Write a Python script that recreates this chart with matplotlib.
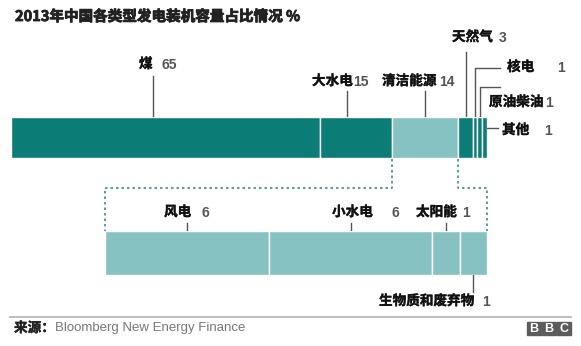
import matplotlib
matplotlib.use("Agg")
import matplotlib.pyplot as plt
import matplotlib.patheffects as pe
from matplotlib.patches import Rectangle

# 装机容量占比 (%)
main_names = ["煤", "大水电", "清洁能源", "天然气", "核电", "原油柴油", "其他"]
main_vals = [65, 15, 14, 3, 1, 1, 1]
main_colors = ["#0b7d76", "#0b7d76", "#86c2c1", "#0b7d76", "#0b7d76", "#0b7d76", "#0b7d76"]

clean_names = ["风电", "小水电", "太阳能", "生物质和废弃物"]
clean_vals = [6, 6, 1, 1]
clean_color = "#86c2c1"

TITLE = "2013年中国各类型发电装机容量占比情况 %"
SOURCE = "Bloomberg New Energy Finance"

CJK = ["Noto Sans CJK SC", "DejaVu Sans"]
NUM = ["Liberation Sans", "DejaVu Sans"]
W, H = 581, 346

fig = plt.figure(figsize=(W / 100, H / 100), dpi=100)
ov = fig.add_axes([0, 0, 1, 1])
ov.set_xlim(0, W); ov.set_ylim(H, 0); ov.axis("off")


def bar_axes(x0, x1, ytop, ybot, total):
    ax = fig.add_axes([x0 / W, 1 - ybot / H, (x1 - x0) / W, (ybot - ytop) / H])
    ax.set_xlim(0, total); ax.set_ylim(0, 1); ax.axis("off")
    return ax


def px(ax, v):
    return ax.transData.transform((v, 0))[0]


def stacked(ax, vals, colors):
    left = 0
    lefts = []
    for v, c in zip(vals, colors):
        ax.barh(0.5, v, left=left, height=1, color=c, edgecolor="white", linewidth=1.0)
        lefts.append(left)
        left += v
    return lefts


ax_top = bar_axes(11, 487, 117, 158, sum(main_vals))
ax_bot = bar_axes(105, 487, 231, 275, sum(clean_vals))
top_lefts = stacked(ax_top, main_vals, main_colors)
bot_lefts = stacked(ax_bot, clean_vals, [clean_color] * len(clean_vals))
fig.canvas.draw()

top_mid = [px(ax_top, l + v / 2) for l, v in zip(top_lefts, main_vals)]
bot_mid = [px(ax_bot, l + v / 2) for l, v in zip(bot_lefts, clean_vals)]
top_mid[0] = px(ax_top, main_vals[0] * 0.46)
top_mid[1] = px(ax_top, top_lefts[1] + main_vals[1] * 0.37)

lc = "#555555"
lw = 1.0
thick = [pe.withStroke(linewidth=0.25, foreground="#111111")]


def label(x, y, name, val, xv, fs=9.8):
    ov.text(x, y, name, fontsize=fs, fontweight="heavy", family=CJK, color="#111111",
            ha="left", va="center", path_effects=thick)
    ov.text(xv, y + 1, str(val), fontsize=10, fontweight="bold", family=NUM, color="#555555",
            ha="left", va="center")


# top bar leaders
ov.plot([top_mid[0]] * 2, [76, 117], color=lc, lw=lw)
label(139, 64, main_names[0], main_vals[0], 162)
ov.plot([top_mid[1]] * 2, [91, 117], color=lc, lw=lw)
label(312, 81, main_names[1], main_vals[1], 353)
ov.plot([top_mid[2]] * 2, [91, 117], color=lc, lw=lw)
label(382, 81, main_names[2], main_vals[2], 439)
ov.plot([top_mid[3]] * 2, [52, 117], color=lc, lw=lw)
label(452, 37, main_names[3], main_vals[3], 499)
ov.plot([top_mid[4], top_mid[4], 500], [117, 68, 68], color=lc, lw=lw)
label(507, 67, main_names[4], main_vals[4], 557)
ov.plot([top_mid[5], top_mid[5], 500], [117, 87, 87], color=lc, lw=lw)
label(489, 102, main_names[5], main_vals[5], 545)
ov.plot([px(ax_top, sum(main_vals)), 498], [128, 128], color=lc, lw=lw)
label(502, 130, main_names[6], main_vals[6], 544)

# bottom bar leaders
for i, (tx, nx) in enumerate([(164, 202), (332, 391), (416, 462)]):
    ov.plot([bot_mid[i]] * 2, [223, 231], color=lc, lw=lw)
    label(tx, 212, clean_names[i], clean_vals[i], nx)
ov.plot([bot_mid[3]] * 2, [275, 292], color=lc, lw=lw)
label(379, 301, clean_names[3], clean_vals[3], 482)

# dotted breakout from the clean-energy segment
c0 = px(ax_top, top_lefts[2])
c1 = px(ax_top, top_lefts[2] + main_vals[2])
b0 = px(ax_bot, 0)
b1 = px(ax_bot, sum(clean_vals))
dot = dict(color="#3a8f8a", lw=1.2, ls=(0, (1.5, 1.8)))
ov.plot([c0, c0, b0, b0], [159, 188, 188, 231], **dot)
ov.plot([c1, c1, b1, b1], [159, 188, 188, 231], **dot)

# title
ov.text(15, 16, TITLE, fontsize=10.5, fontweight="heavy", family=CJK, color="#222222",
        ha="left", va="center", path_effects=[pe.withStroke(linewidth=0.6, foreground="#222222")])

# footer
ov.plot([10, 571], [317, 317], color="#b0b0b0", lw=1.2)
ov.text(14, 328, "来源：", fontsize=9.8, fontweight="heavy", family=CJK, color="#222222",
        ha="left", va="center", path_effects=thick)
ov.text(55, 328, SOURCE, fontsize=9.5, family=NUM, color="#777777", ha="left", va="center")
for i, ch in enumerate("BBC"):
    x = 527 + i * 15
    ov.add_patch(Rectangle((x, 322), 13.5, 13, color="#5c5c5c"))
    ov.text(x + 6.75, 328.8, ch, fontsize=9, fontweight="bold", family=NUM, color="white",
            ha="center", va="center")

fig.savefig("out.png", dpi=100)
